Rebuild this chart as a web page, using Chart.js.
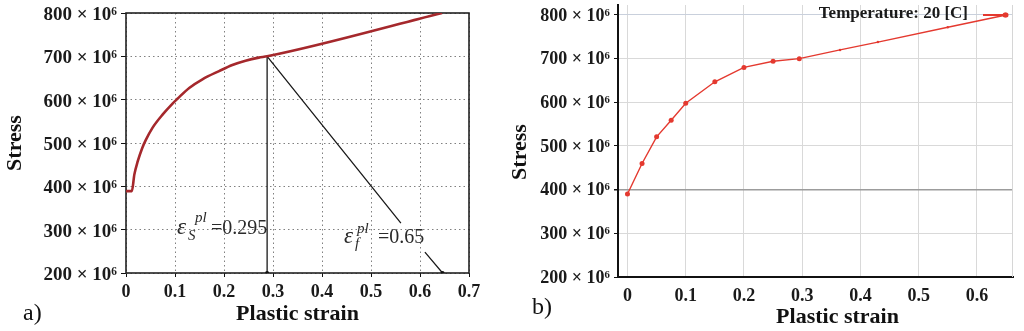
<!DOCTYPE html>
<html><head><meta charset="utf-8">
<script src="https://cdn.jsdelivr.net/npm/chart.js@4.4.0/dist/chart.umd.min.js"></script>
<style>
html,body{margin:0;padding:0;background:#fff;}
body{width:1024px;height:331px;position:relative;overflow:hidden;}
#wa{position:absolute;left:0;top:0;width:480px;height:331px;}
#wb{position:absolute;left:500px;top:0;width:524px;height:331px;}
.tag{position:absolute;font-family:"Liberation Serif","Times New Roman",serif;font-size:24px;color:#111;line-height:1;}
</style></head><body>
<div id="wa"><canvas id="ca" width="480" height="331"></canvas></div>
<div id="wb"><canvas id="cb" width="524" height="331"></canvas></div>
<div class="tag" style="left:23px;top:300px">a)</div>
<div class="tag" style="left:532px;top:294px">b)</div>
<script>
// ---------- data ----------
const curveStrain = [0, 0.012, 0.017, 0.024, 0.033, 0.04, 0.054, 0.075, 0.095, 0.105, 0.129, 0.156, 0.19, 0.217, 0.244, 0.271, 0.288, 0.645];
const curveStress = [389, 389, 427, 458, 488, 506, 535, 566, 591, 602, 627, 647, 666, 680, 690, 697, 700, 800];
const yieldStrain = [0.288, 0.288];
const yieldStress = [700, 200];
const failStrain = [0.288, 0.561, null, 0.61, 0.646];
const failStress = [700, 315, null, 248, 200];
const tempStrain = [0, 0.025, 0.05, 0.075, 0.1, 0.15, 0.2, 0.25, 0.295, 0.365, 0.43, 0.55, 0.65];
const tempStress = [390, 460, 521, 559, 598, 647, 680, 694, 700, 720, 738, 772, 800];
const tempLabel = 'Temperature: 20 [C]';
const xTicksA = [0, 0.1, 0.2, 0.3, 0.4, 0.5, 0.6, 0.7];
const xTicksB = [0, 0.1, 0.2, 0.3, 0.4, 0.5, 0.6];
const yTicks = [200, 300, 400, 500, 600, 700, 800];
const xTitle = 'Plastic strain';
const yTitle = 'Stress';
const annoS = {sub: 'S', val: '=0.295'};
const annoF = {sub: 'f', val: '=0.65'};

// ---------- helpers ----------
const SERIF = '"Liberation Serif","Times New Roman",serif';
const zip = (xs, ys) => xs.map((x, i) => ({x: x, y: ys[i]}));
const fixW = w => s => { s.width = w; s.paddingTop = 0; s.paddingBottom = 0; s.paddingLeft = 0; s.paddingRight = 0; };
const fixH = h => s => { s.height = h; s.paddingTop = 0; s.paddingBottom = 0; s.paddingLeft = 0; s.paddingRight = 0; };
const setTicks = arr => s => { s.ticks = arr.map(v => ({value: v})); };
const fmtX = v => String(Math.round(v * 10) / 10);
const fmtY = v => v + ' \u00d7 10\u2076';

// ---------- panel a ----------
const frameA = {
  id: 'frameA',
  beforeDatasetsDraw(chart) {
    const {ctx, chartArea: a} = chart;
    ctx.save();
    ctx.strokeStyle = '#222';
    ctx.lineWidth = 1.6;
    ctx.strokeRect(a.left, a.top, a.right - a.left, a.bottom - a.top);
    ctx.restore();
  }
};
function drawEps(ctx, x0, y0, o, supDx, supDy, subDx, subDy) {
  ctx.fillStyle = '#2a2a2a';
  ctx.textBaseline = 'alphabetic';
  ctx.textAlign = 'left';
  ctx.font = 'italic 23px ' + SERIF;
  ctx.fillText('\u03b5', x0, y0);
  ctx.font = 'italic 15px ' + SERIF;
  ctx.fillText('pl', x0 + supDx, y0 + supDy);
  ctx.fillText(o.sub, x0 + subDx, y0 + subDy);
  ctx.font = '20px ' + SERIF;
  ctx.fillText(o.val, x0 + 34, y0);
}
const annoA = {
  id: 'annoA',
  afterDatasetsDraw(chart) {
    const {ctx, scales: {x, y}} = chart;
    ctx.save();
    drawEps(ctx, x.getPixelForValue(0.104), y.getPixelForValue(290), annoS, 18, -12, 11, 6);
    drawEps(ctx, x.getPixelForValue(0.445), y.getPixelForValue(270), annoF, 13, -10, 11, 5);
    ctx.restore();
  }
};

new Chart(document.getElementById('ca'), {
  type: 'line',
  data: {
    datasets: [
      {data: zip(curveStrain, curveStress), borderColor: '#a5282c', borderWidth: 2.6, pointRadius: 0, cubicInterpolationMode: 'monotone'},
      {data: zip(yieldStrain, yieldStress), borderColor: '#1a1a1a', borderWidth: 1.3, pointRadius: [0, 2], pointBackgroundColor: '#111', pointBorderWidth: 0},
      {data: zip(failStrain, failStress), borderColor: '#1a1a1a', borderWidth: 1.3, pointRadius: [0, 0, 0, 0, 2], pointBackgroundColor: '#111', pointBorderWidth: 0, spanGaps: false}
    ]
  },
  options: {
    responsive: false, animation: false, devicePixelRatio: 1,
    layout: {padding: {left: 0, top: 13, right: 11, bottom: 0}},
    plugins: {legend: {display: false}, tooltip: {enabled: false}},
    scales: {
      x: {
        type: 'linear', min: 0, max: 0.7,
        afterBuildTicks: setTicks(xTicksA), afterFit: fixH(58),
        grid: {color: '#808080', lineWidth: 1, drawTicks: true, tickLength: 4, tickColor: '#111', tickBorderDash: []},
        border: {display: false, dash: [1.5, 3]},
        ticks: {callback: fmtX, padding: 5, color: '#1a1a1a', font: {family: SERIF, size: 18, weight: 'bold'}, maxRotation: 0, autoSkip: false},
        title: {display: true, text: xTitle, color: '#111', font: {family: SERIF, size: 22, weight: 'bold'}, padding: {top: 0, bottom: 3}}
      },
      y: {
        type: 'linear', min: 200, max: 800,
        afterBuildTicks: setTicks(yTicks), afterFit: fixW(126),
        grid: {color: '#808080', lineWidth: 1, drawTicks: true, tickLength: 5, tickColor: '#111', tickBorderDash: []},
        border: {display: false, dash: [1.5, 3]},
        ticks: {callback: fmtY, padding: 4, labelOffset: 2, color: '#1a1a1a', font: {family: SERIF, size: 19, weight: 'bold'}, autoSkip: false},
        title: {display: true, text: yTitle, color: '#111', font: {family: SERIF, size: 22, weight: 'bold'}, padding: {top: 2, bottom: 0}}
      }
    }
  },
  plugins: [frameA, annoA]
});

// ---------- panel b ----------
const legendB = {
  id: 'legendB',
  afterDraw(chart) {
    const {ctx, chartArea: a} = chart;
    const ds = chart.data.datasets[0];
    ctx.save();
    const yMid = a.top + 10;
    ctx.strokeStyle = ds.borderColor;
    ctx.lineWidth = 2;
    ctx.beginPath();
    ctx.moveTo(a.right - 30, yMid);
    ctx.lineTo(a.right - 5, yMid);
    ctx.stroke();
    ctx.fillStyle = ds.borderColor;
    ctx.beginPath();
    ctx.arc(a.right - 8, yMid, 2.5, 0, Math.PI * 2);
    ctx.fill();
    ctx.font = 'bold 17px ' + SERIF;
    ctx.fillStyle = '#1a1a1a';
    ctx.textAlign = 'right';
    ctx.textBaseline = 'middle';
    ctx.fillText(ds.label, a.right - 45, yMid - 1);
    ctx.restore();
  }
};
const edgeB = {
  id: 'edgeB',
  beforeDatasetsDraw(chart) {
    const {ctx, chartArea: a} = chart;
    ctx.save();
    ctx.strokeStyle = '#d6d6d6';
    ctx.lineWidth = 1;
    ctx.beginPath();
    ctx.moveTo(a.right - 0.5, a.top);
    ctx.lineTo(a.right - 0.5, a.bottom);
    ctx.stroke();
    ctx.restore();
  }
};

new Chart(document.getElementById('cb'), {
  type: 'line',
  data: {
    datasets: [
      {label: tempLabel, data: zip(tempStrain, tempStress), borderColor: '#e4392f', backgroundColor: '#e4392f', borderWidth: 1.4,
       pointRadius: [2.5, 2.5, 2.5, 2.5, 2.5, 2.5, 2.5, 2.5, 2.5, 1.2, 1.2, 1.2, 2.5], pointBorderWidth: 0, pointBackgroundColor: '#e4392f', tension: 0}
    ]
  },
  options: {
    responsive: false, animation: false, devicePixelRatio: 1,
    layout: {padding: {left: 0, top: 5, right: 11, bottom: 0}},
    plugins: {legend: {display: false}, tooltip: {enabled: false}},
    scales: {
      x: {
        type: 'linear', min: -0.0163, max: 0.662,
        afterBuildTicks: setTicks(xTicksB), afterFit: fixH(54),
        grid: {color: '#d9d9d9', lineWidth: 1, drawTicks: false},
        border: {display: true, color: '#111', width: 2},
        ticks: {callback: fmtX, padding: 9, color: '#1a1a1a', font: {family: SERIF, size: 18, weight: 'bold'}, maxRotation: 0, autoSkip: false},
        title: {display: true, text: '        ' + xTitle, color: '#111', font: {family: SERIF, size: 22, weight: 'bold'}, padding: {top: 0, bottom: 0}}
      },
      y: {
        type: 'linear', min: 200, max: 822.9,
        afterBuildTicks: setTicks(yTicks), afterFit: fixW(118),
        grid: {
          color: c => (c.tick && c.tick.value === 400) ? '#9c9c9c' : (c.tick && c.tick.value === 800 ? '#c9d0dc' : '#d9d9d9'),
          lineWidth: c => (c.tick && c.tick.value === 400) ? 1.5 : 1,
          drawTicks: true, tickLength: 4, tickColor: '#111'
        },
        border: {display: true, color: '#111', width: 2},
        ticks: {callback: fmtY, padding: 4, labelOffset: 1, color: '#1a1a1a', font: {family: SERIF, size: 18, weight: 'bold'}, autoSkip: false},
        title: {display: true, text: yTitle + '    ', color: '#111', font: {family: SERIF, size: 22, weight: 'bold'}, padding: {top: 7, bottom: 0}}
      }
    }
  },
  plugins: [edgeB, legendB]
});
</script>
</body></html>
